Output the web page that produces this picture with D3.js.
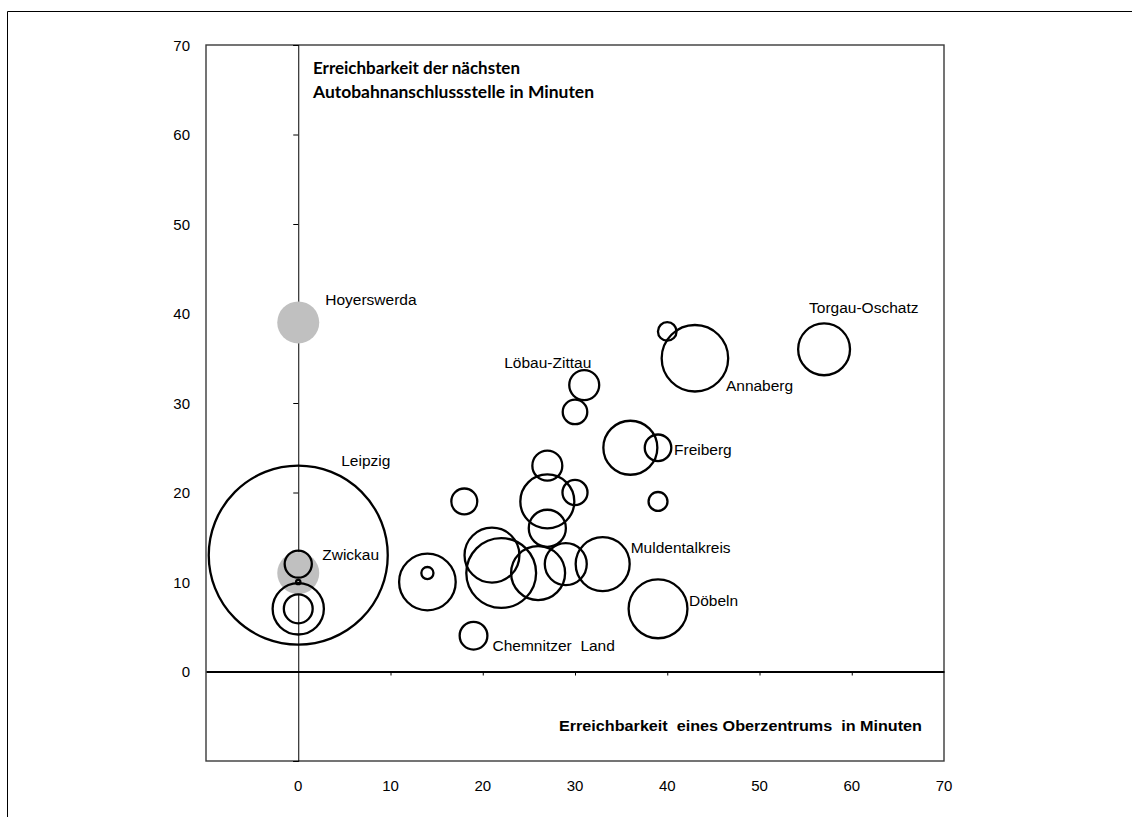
<!DOCTYPE html>
<html>
<head>
<meta charset="utf-8">
<script src="https://cdn.jsdelivr.net/npm/d3@7/dist/d3.min.js"></script>
<style>
  html, body { margin: 0; padding: 0; background: #fff; }
  svg { display: block; }
  text { font-family: "Liberation Sans", Arial, sans-serif; fill: #000; }
</style>
</head>
<body>
<svg id="chart" width="1132" height="817"></svg>
<script>
// ---- Data ----
// Outlined bubbles (Landkreise)
const kreisNames = ["Leipzig", "", "", "", "", "", "", "", "Chemnitzer  Land", "", "", "", "", "Muldentalkreis", "Döbeln", "", "", "", "", "", "", "Freiberg", "", "Löbau-Zittau", "Annaberg", "", "Torgau-Oschatz"];
const kreisX     = [0, 0, 0, 0, 0, 14, 14, 18, 19, 21, 22, 26, 29, 33, 39, 27, 27, 30, 27, 39, 36, 39, 30, 31, 43, 40, 57];
const kreisY     = [13, 12, 10, 7, 7, 10, 11, 19, 4, 13, 11, 11, 12, 12, 7, 16, 19, 20, 23, 19, 25, 25, 29, 32, 35, 38, 36];
const kreisSize  = [500, 11.5, 0.3, 41, 13, 50, 2.3, 10.5, 12, 47, 76, 45.5, 27.5, 45.5, 54, 21.5, 45.5, 9.8, 14, 5.6, 45.5, 11, 9.4, 14, 69, 5.4, 42];

// Grey filled bubbles (Städte)
const stadtNames = ["Hoyerswerda", "Zwickau"];
const stadtX     = [0, 0];
const stadtY     = [39, 11];
const stadtSize  = [27.5, 27.5];

// Axis ticks
const xTicks = [0, 10, 20, 30, 40, 50, 60, 70];
const yTicks = [0, 10, 20, 30, 40, 50, 60, 70];

const yTitleLines = ["Erreichbarkeit der nächsten", "Autobahnanschlussstelle in Minuten"];
const xTitle = "Erreichbarkeit  eines Oberzentrums  in Minuten";

// ---- Layout ----
const svg = d3.select("#chart");
const L = 206, R = 944, T = 45, B = 761;

const x = d3.scaleLinear().domain([-10, 70]).range([L, R]);
const y = d3.scaleLinear().domain([-10, 70]).range([B, T]);
const r = d3.scaleSqrt().domain([0, 500]).range([0, 89.5]);

// label offsets (pixels) relative to bubble centre
const labelOffset = {
  "Hoyerswerda": [27, -22],
  "Leipzig": [43, -93],
  "Zwickau": [24, -17],
  "Löbau-Zittau": [-80, -21],
  "Annaberg": [31, 29],
  "Torgau-Oschatz": [-15, -40],
  "Freiberg": [16, 3],
  "Muldentalkreis": [28, -15],
  "Döbeln": [31, -7],
  "Chemnitzer  Land": [19, 11]
};

// outer frame
svg.append("path")
  .attr("d", "M7.5,830 L7.5,11.5 L1140,11.5")
  .attr("fill", "none").attr("stroke", "#000").attr("stroke-width", 1);

// plot border
svg.append("rect")
  .attr("x", L).attr("y", T).attr("width", R - L).attr("height", B - T)
  .attr("fill", "#fff").attr("stroke", "#3a3a3a").attr("stroke-width", 1.4);

// Y axis at x = 0 (ticks pointing left, labels outside at left)
const yAxis = d3.axisLeft(y).tickValues(d3.range(-10, 71, 10)).tickSize(5).tickFormat("");
const gy = svg.append("g").attr("transform", `translate(${x(0)},0)`).call(yAxis);
gy.select(".domain").attr("stroke", "#000").attr("stroke-width", 1);
gy.selectAll(".tick line").attr("stroke", "#000");

// X axis at y = 0 (ticks pointing down)
const xAxis = d3.axisBottom(x).tickValues(d3.range(10, 70, 10)).tickSize(4).tickFormat("").tickSizeOuter(0);
const gx = svg.append("g").attr("transform", `translate(0,${y(0)})`).call(xAxis);
gx.select(".domain").attr("stroke", "#000").attr("stroke-width", 2.2);
gx.selectAll(".tick line").attr("stroke", "#000");

// tick labels outside plot
svg.append("g").selectAll("text").data(yTicks).join("text")
  .attr("x", 190).attr("y", d => y(d) + 2)
  .attr("text-anchor", "end").attr("dominant-baseline", "middle")
  .style("font-size", "15px").text(d => d);

svg.append("g").selectAll("text").data(xTicks).join("text")
  .attr("x", d => x(d)).attr("y", 787)
  .attr("text-anchor", "middle").attr("dominant-baseline", "middle")
  .style("font-size", "15px").text(d => d);

// grey bubbles
const stadt = stadtNames.map((n, i) => ({ name: n, x: stadtX[i], y: stadtY[i], s: stadtSize[i] }));
svg.append("g").selectAll("circle").data(stadt).join("circle")
  .attr("cx", d => x(d.x)).attr("cy", d => y(d.y)).attr("r", d => r(d.s))
  .attr("fill", "#c0c0c0").attr("stroke", "none");

// outlined bubbles
const kreis = kreisNames.map((n, i) => ({ name: n, x: kreisX[i], y: kreisY[i], s: kreisSize[i] }));
svg.append("g").selectAll("circle").data(kreis).join("circle")
  .attr("cx", d => x(d.x)).attr("cy", d => y(d.y)).attr("r", d => r(d.s))
  .attr("fill", "none").attr("stroke", "#000").attr("stroke-width", 2.3);

// data labels
const labelled = stadt.concat(kreis).filter(d => d.name);
svg.append("g").selectAll("text").data(labelled).join("text")
  .attr("x", d => x(d.x) + labelOffset[d.name][0])
  .attr("y", d => y(d.y) + labelOffset[d.name][1])
  .attr("dominant-baseline", "middle")
  .style("font-size", "15.5px")
  .style("white-space", "pre")
  .attr("xml:space", "preserve")
  .text(d => d.name);

// y-axis title
svg.append("g").selectAll("text").data(yTitleLines).join("text")
  .attr("x", 313).attr("y", (d, i) => 70 + i * 24)
  .attr("dominant-baseline", "middle")
  .style("font-family", "Lato, 'Open Sans', sans-serif")
  .style("font-weight", "bold").style("font-size", "17px")
  .attr("textLength", (d, i) => i === 0 ? 207 : 281)
  .attr("lengthAdjust", "spacingAndGlyphs")
  .text(d => d);

// x-axis title
svg.append("text")
  .attr("x", 559).attr("y", 727)
  .attr("dominant-baseline", "middle")
  .attr("xml:space", "preserve")
  .style("white-space", "pre")
  .style("font-weight", "bold").style("font-size", "14px")
  .attr("textLength", 363).attr("lengthAdjust", "spacingAndGlyphs")
  .text(xTitle);
</script>
</body>
</html>
